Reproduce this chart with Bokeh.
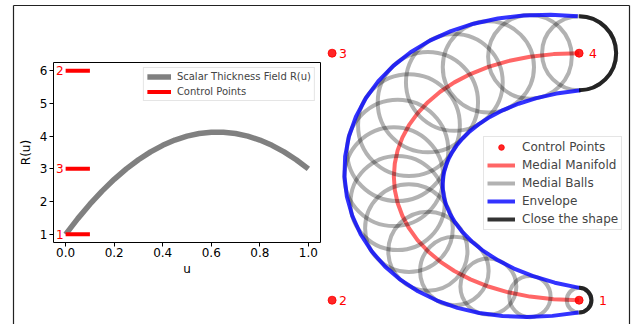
import numpy as np
from bokeh.plotting import figure
from bokeh.models import (Range1d, LinearAxis, FixedTicker, Legend, LegendItem,
                          ColumnDataSource, NumeralTickFormatter)
from bokeh.embed import file_html
from bokeh.resources import INLINE
from bokeh.core.properties import value

# ---------------- data: scalar thickness field (left inset) ----------------
u_vals = [0.0, 0.05, 0.1, 0.15, 0.2, 0.25, 0.3, 0.35, 0.4, 0.45, 0.5,
          0.55, 0.6, 0.65, 0.7, 0.75, 0.8, 0.85, 0.9, 0.95, 1.0]
R_vals = [1.0, 1.48, 1.92, 2.32, 2.68, 3.0, 3.28, 3.52, 3.72, 3.88, 4.0,
          4.08, 4.12, 4.12, 4.08, 4.0, 3.88, 3.72, 3.52, 3.28, 3.0]
thick_ctrl_vals = [1, 6, 3]
thick_ctrl_labels = ["1", "2", "3"]
thick_ctrl_u0 = [0.0, 0.0, 0.0]
thick_ctrl_u1 = [0.1, 0.1, 0.1]
x_ticks = [0.0, 0.2, 0.4, 0.6, 0.8, 1.0]
y_ticks = [1, 2, 3, 4, 5, 6]

# ---------------- data: medial shape (right panel) ----------------
ctrl_x = [10, 0, 0, 10]
ctrl_y = [0, 0, 10, 10]
ctrl_labels = ["1", "2", "3", "4"]

medial_x = [10.0, 8.967, 8.010, 7.130, 6.327, 5.599, 4.949, 4.375, 3.878, 3.457,
            3.112, 2.844, 2.653, 2.538, 2.5, 2.538, 2.653, 2.844, 3.112, 3.457,
            3.878, 4.375, 4.949, 5.599, 6.327, 7.130, 8.010, 8.967, 10.0]
medial_y = [0.0, 0.037, 0.146, 0.320, 0.554, 0.843, 1.181, 1.563, 1.983, 2.435,
            2.915, 3.417, 3.936, 4.465, 5.0, 5.535, 6.064, 6.583, 7.085, 7.565,
            8.017, 8.438, 8.819, 9.157, 9.446, 9.680, 9.854, 9.963, 10.0]
medial_R = [1.0, 1.347, 1.673, 1.980, 2.265, 2.531, 2.776, 3.0, 3.204, 3.388,
            3.551, 3.694, 3.816, 3.918, 4.0, 4.061, 4.102, 4.122, 4.122, 4.102,
            4.061, 4.0, 3.918, 3.816, 3.694, 3.551, 3.388, 3.204, 3.0]
RADIUS_SCALE = 0.5
BALL_STEP = 2

FONT = "DejaVu Sans"

# ---------------- main (right) figure ----------------
W, H = 623, 320
ML, MR, MT, MB = 5, 2, 1, 0
PX, PY = 8, 4                      # page position of the main figure
FL, FR = PX + ML, PX + W - MR
FT, FB = PY + MT, PY + H - MB
SCALE = 24.7
OX, OY = 331.6, 299.7              # page position of data origin

p = figure(width=W, height=H, output_backend="svg", toolbar_location=None,
           x_range=Range1d((FL - OX) / SCALE, (FR - OX) / SCALE),
           y_range=Range1d((OY - FB) / SCALE, (OY - FT) / SCALE),
           x_axis_location="above",
           min_border_left=ML, min_border_right=MR, min_border_top=MT, min_border_bottom=MB,
           outline_line_color=None, background_fill_color="white", border_fill_color="white")
p.add_layout(LinearAxis(), "right")
p.grid.visible = False
for ax in p.axis:
    ax.ticker = FixedTicker(ticks=[])
    ax.major_tick_out = 0
    ax.major_tick_in = 0
    ax.minor_tick_out = 0
    ax.minor_tick_in = 0
    ax.major_label_standoff = 0
    ax.major_label_text_font_size = "0px"
    ax.axis_line_color = "#222222"
    ax.axis_line_width = 1.2

mx = np.array(medial_x, dtype=float)
my = np.array(medial_y, dtype=float)
mr = np.array(medial_R, dtype=float) * RADIUS_SCALE
tx, ty = np.gradient(mx), np.gradient(my)
tn = np.hypot(tx, ty)
nx, ny = -ty / tn, tx / tn

ctrl_src = ColumnDataSource(dict(x=ctrl_x, y=ctrl_y, t=ctrl_labels, dx=[20, 7, 7, 10]))
r_pts = p.scatter("x", "y", source=ctrl_src, size=8, color="red", alpha=0.85)
p.text("x", "y", text="t", source=ctrl_src, x_offset="dx", text_color="red",
       text_font=value(FONT), text_font_size="12.5px", text_baseline="middle", text_align="left")

r_med = p.line(mx, my, line_color="red", line_alpha=0.6, line_width=4)

p.circle(mx[::BALL_STEP], my[::BALL_STEP], radius=mr[::BALL_STEP], fill_color=None,
         line_color="black", line_alpha=0.3, line_width=4)
r_balls = p.line([np.nan], [np.nan], line_color="black", line_alpha=0.3, line_width=4)

r_env = p.line(mx + mr * nx, my + mr * ny, line_color="blue", line_alpha=0.8, line_width=4,
               line_join="round")
p.line(mx - mr * nx, my - mr * ny, line_color="blue", line_alpha=0.8, line_width=4,
       line_join="round")

ends = [0, len(mx) - 1]
p.arc(mx[ends], my[ends], radius=mr[ends], start_angle=-np.pi / 2, end_angle=np.pi / 2,
      direction="anticlock", line_color="black", line_alpha=0.8, line_width=4)
r_close = p.line([np.nan], [np.nan], line_color="black", line_alpha=0.8, line_width=4)

leg = Legend(items=[LegendItem(label="Control Points", renderers=[r_pts]),
                    LegendItem(label="Medial Manifold", renderers=[r_med]),
                    LegendItem(label="Medial Balls", renderers=[r_balls]),
                    LegendItem(label="Envelope", renderers=[r_env]),
                    LegendItem(label="Close the shape", renderers=[r_close])],
             location=(470, FB - 230), label_text_font=FONT, label_text_font_size="12px",
             glyph_width=28, glyph_height=14, label_height=14, spacing=4, padding=3,
             label_standoff=7, margin=0, border_line_color="#cccccc", border_line_width=1,
             background_fill_alpha=0.8)
p.add_layout(leg)
p.styles = {"position": "absolute", "left": f"{PX}px", "top": f"{PY}px"}

# ---------------- inset (left) figure ----------------
IW, IH = 312, 226
IML, IMR, IMT, IMB = 40, 5, 10, 35
q = figure(width=IW, height=IH, output_backend="svg", toolbar_location=None,
           x_range=Range1d(-0.05, 1.05), y_range=Range1d(0.75, 6.25),
           min_border_left=IML, min_border_right=IMR, min_border_top=IMT, min_border_bottom=IMB,
           outline_line_color="black", outline_line_width=1,
           background_fill_color="white", border_fill_color=None, border_fill_alpha=0)
q.grid.visible = False
q.xaxis.ticker = FixedTicker(ticks=x_ticks)
q.xaxis.formatter = NumeralTickFormatter(format="0.0")
q.yaxis.ticker = FixedTicker(ticks=y_ticks)
q.xaxis.axis_label = "u"
q.yaxis.axis_label = "R(u)"
for ax in q.axis:
    ax.axis_line_color = None
    ax.major_tick_out = 4
    ax.major_tick_in = 0
    ax.major_tick_line_color = "black"
    ax.minor_tick_line_color = None
    ax.major_label_text_font = FONT
    ax.major_label_text_font_size = "12px"
    ax.major_label_text_color = "black"
    ax.axis_label_text_font = FONT
    ax.axis_label_text_font_size = "12px"
    ax.axis_label_text_font_style = "normal"
    ax.axis_label_text_color = "black"
q.xaxis.major_label_standoff = 1
q.xaxis.axis_label_standoff = 2
q.yaxis.major_label_standoff = 2
q.yaxis.axis_label_standoff = 4

r_field = q.line(u_vals, R_vals, line_color="gray", line_width=5.5)
r_cp = q.segment(thick_ctrl_u0, thick_ctrl_vals, thick_ctrl_u1, thick_ctrl_vals,
                 line_color="red", line_width=4)
q.text(thick_ctrl_u0, thick_ctrl_vals, text=thick_ctrl_labels, x_offset=-2,
       text_color="red", text_font=value(FONT), text_font_size="12px",
       text_baseline="middle", text_align="right")

qleg = Legend(items=[LegendItem(label="Scalar Thickness Field R(u)", renderers=[r_field]),
                     LegendItem(label="Control Points", renderers=[r_cp])],
              location="top_right", label_text_font=FONT, label_text_font_size="10px",
              glyph_width=24, glyph_height=11, label_height=11, spacing=4, padding=3,
              label_standoff=6, margin=5, border_line_color="#cccccc", border_line_width=1,
              background_fill_alpha=0.8)
q.add_layout(qleg)
q.styles = {"position": "absolute", "left": f"{53 - IML}px", "top": f"{62 - IMT}px"}

open("out.html", "w").write(file_html([p, q], INLINE))
